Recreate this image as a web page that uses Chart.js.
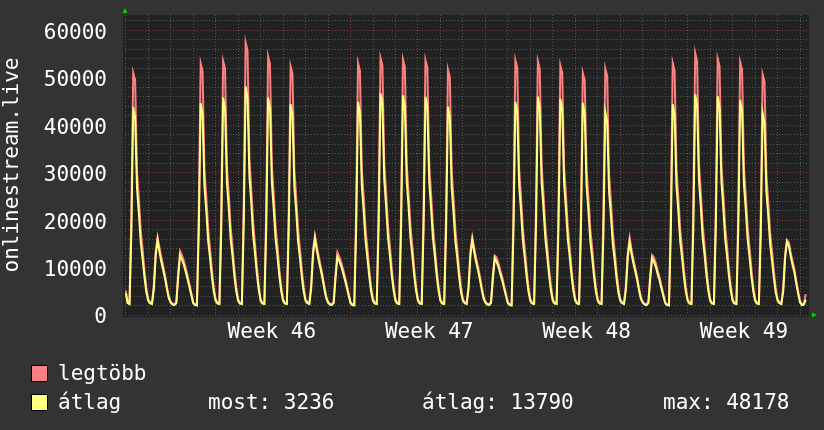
<!DOCTYPE html>
<html>
<head>
<meta charset="utf-8">
<script src="https://cdn.jsdelivr.net/npm/chart.js@4"></script>
<style>
html,body{margin:0;padding:0;background:#333333;}
#wrap{position:relative;width:824px;height:430px;overflow:hidden;background:#333333;}
#c{position:absolute;left:0;top:0;}
.lg{position:absolute;font-family:"DejaVu Sans Mono",monospace;font-size:21px;line-height:21px;color:#ffffff;white-space:pre;}
.box{position:absolute;width:15px;height:15px;border:1px solid #000000;}
</style>
</head>
<body>
<div id="wrap">
<canvas id="c" width="824" height="430"></canvas>
</div>
<script>
// ---------------- DATA ----------------
const Y_TITLE = 'onlinestream.live';
const SERIES_NAMES = ['legtöbb', 'átlag'];
const STEP_HOURS = 2;               // sample spacing (hours)
const WEEK_LABELS = ['Week 46', 'Week 47', 'Week 48', 'Week 49'];
const WEEK_START_HOURS = [72, 240, 408, 576];
const Y_TICK_LABELS = [0, 10000, 20000, 30000, 40000, 50000, 60000];
const STAT_LABELS = ['most', 'átlag', 'max'];
const STAT_VALUES = [3236, 13790, 48178];

// "legtöbb" (max) – one row per day, 2-hour samples
const maxRows = [
  [5200,2700,2500,21400,51000,49500,30200,24500,17800,13800,9400,5700],
  [3300,2700,2500,6400,13500,16400,14200,12100,10300,8300,6000,3900],
  [2800,2400,2300,2800,9000,13500,12600,11400,9900,8300,6500,4600],
  [2700,2300,2200,22300,53000,51400,30700,24900,18100,14000,9500,5800],
  [3300,2600,2500,22500,53500,51900,31400,25400,18500,14400,9700,5900],
  [3300,2600,2500,24100,57400,55700,32900,26600,19400,15000,10200,6200],
  [3300,2600,2500,22900,54500,52900,31400,25400,18500,14400,9700,5900],
  [3300,2600,2500,22000,52400,50800,30600,24800,18000,14000,9500,5800],
  [3300,2700,2500,6500,13800,16700,14500,12400,10500,8500,6100,4000],
  [2800,2400,2300,2800,8800,13200,12300,11100,9700,8100,6400,4500],
  [2700,2300,2200,22300,53100,51500,30900,25000,18200,14100,9600,5800],
  [3300,2600,2500,22800,54200,52600,32000,25900,18800,14600,9900,6000],
  [3300,2600,2500,22600,53800,52200,31700,25700,18700,14500,9800,6000],
  [3300,2600,2500,22600,53700,52100,31600,25500,18600,14400,9800,6000],
  [3300,2600,2500,21700,51700,50100,30300,24500,17900,13900,9400,5700],
  [3300,2700,2500,6400,13500,16400,14200,12100,10300,8300,6000,3900],
  [2800,2400,2300,2800,8600,12500,12100,10900,9300,7900,6100,4400],
  [2700,2300,2200,22600,53700,52100,30900,25000,18200,14100,9600,5800],
  [3300,2600,2500,22500,53500,51900,31600,25500,18600,14400,9800,6000],
  [3300,2600,2500,22100,52600,51000,31300,25300,18500,14300,9700,5900],
  [3300,2600,2500,21400,51000,49500,30800,24900,18100,14100,9500,5800],
  [3300,2600,2500,21800,51900,50300,29600,24000,17500,13600,9200,5600],
  [3300,2700,2500,6300,13200,16300,13800,11700,9900,8000,5700,3800],
  [2800,2400,2300,2800,8600,12600,12100,10900,9300,7900,6100,4400],
  [2700,2300,2200,22300,53100,51500,30600,24800,18000,14000,9500,5800],
  [3300,2600,2500,23200,55200,53500,31900,25800,18800,14600,9900,6000],
  [3300,2600,2500,22700,54000,52400,31600,25600,18600,14400,9800,6000],
  [3300,2600,2500,22400,53300,51700,31100,25200,18400,14200,9700,5900],
  [3300,2600,2500,21300,50700,49200,29500,23900,17400,13500,9200,5600],
  [3300,2700,2500,5900,13000,15800,15300,13100,11300,9600,7100,4900],
  [2900,2300,2400,4400]
];

// "átlag" (average) – one row per day, 2-hour samples
const avgRows = [
  [4600,2500,2300,17500,43800,41600,26700,21500,15300,11800,7900,4800],
  [3000,2500,2300,5500,12500,15800,13300,11200,9500,7600,5400,3500],
  [2600,2200,2100,2500,8000,12600,11700,10600,9100,7600,5900,4200],
  [2500,2100,2000,17800,44600,42400,27200,21900,15600,12000,8000,4900],
  [3000,2400,2300,18300,45800,43500,27900,22400,16000,12400,8200,5000],
  [3000,2400,2300,19300,48178,45800,29400,23600,16900,13000,8700,5300],
  [3000,2400,2300,18300,45800,43500,27900,22400,16000,12400,8200,5000],
  [3000,2400,2300,17800,44400,42200,27100,21800,15500,12000,8000,4900],
  [3000,2500,2300,5600,12800,16200,13600,11500,9700,7800,5500,3600],
  [2600,2200,2100,2500,7800,12300,11400,10300,8900,7400,5800,4100],
  [2500,2100,2000,18000,44900,42700,27400,22000,15700,12100,8100,4900],
  [3000,2400,2300,18700,46700,44400,28500,22900,16300,12600,8400,5100],
  [3000,2400,2300,18500,46300,44000,28200,22700,16200,12500,8300,5100],
  [3000,2400,2300,18400,46000,43700,28100,22500,16100,12400,8300,5100],
  [3000,2400,2300,17600,43900,41700,26800,21500,15400,11900,7900,4800],
  [3000,2500,2300,5500,12500,15800,13300,11200,9500,7600,5400,3500],
  [2600,2200,2100,2500,7600,12000,11200,10100,8600,7200,5600,4000],
  [2500,2100,2000,18000,44900,42700,27400,22000,15700,12100,8100,4900],
  [3000,2400,2300,18400,46000,43700,28100,22500,16100,12400,8300,5100],
  [3000,2400,2300,18200,45600,43300,27800,22300,16000,12300,8200,5000],
  [3000,2400,2300,17900,44700,42500,27300,21900,15600,12100,8000,4900],
  [3000,2400,2300,17100,42800,40700,26100,21000,15000,11600,7700,4700],
  [3000,2500,2300,5400,12200,15400,12900,10900,9200,7400,5200,3400],
  [2600,2200,2100,2500,7600,12000,11200,10100,8600,7200,5600,4000],
  [2500,2100,2000,17800,44400,42200,27100,21800,15500,12000,8000,4900],
  [3000,2400,2300,18600,46500,44200,28400,22800,16300,12600,8400,5100],
  [3000,2400,2300,18400,46100,43800,28100,22600,16100,12400,8300,5100],
  [3000,2400,2300,18100,45300,43000,27600,22200,15900,12200,8200,5000],
  [3000,2400,2300,17000,42600,40500,26000,20900,14900,11500,7700,4700],
  [3000,2500,2300,5000,12000,15400,14600,12300,10500,8900,6500,4400],
  [2600,2100,2200,3236]
];

// ---------------- STYLE ----------------
const FONT = '"DejaVu Sans Mono", monospace';
const FONT_SIZE = 21;
const CANVAS_BG = '#333333';
const PLOT_BG = '#222222';
const GRID_MINOR = '#565656';
const GRID_MAJOR = '#80383a';
const MAX_COLOR = '#ff8080';
const AVG_COLOR = '#ffff80';
const ARROW_COLOR = '#00d000';

const maxValues = maxRows.flat();
const avgValues = avgRows.flat();
const toPoints = arr => arr.map((v, i) => ({ x: i * STEP_HOURS, y: v }));

const weekLabelAt = {};
WEEK_START_HOURS.forEach((h, i) => { weekLabelAt[h + 84] = WEEK_LABELS[i]; });
const weekBoundary = new Set(WEEK_START_HOURS);

Chart.defaults.font.family = FONT;
Chart.defaults.font.size = FONT_SIZE;
Chart.defaults.color = '#ffffff';

const framePlugin = {
  id: 'frame',
  beforeDraw(chart) {
    const { ctx, chartArea: a } = chart;
    ctx.save();
    ctx.fillStyle = CANVAS_BG;
    ctx.fillRect(0, 0, chart.width, chart.height);
    ctx.fillStyle = PLOT_BG;
    ctx.fillRect(a.left - 2, a.top, a.right - a.left + 2, a.bottom - a.top + 2);
    ctx.restore();
  },
  afterDraw(chart) {
    const { ctx, chartArea: a } = chart;
    ctx.save();
    ctx.fillStyle = ARROW_COLOR;
    ctx.beginPath();
    ctx.moveTo(a.left - 2.5, a.top - 2);
    ctx.lineTo(a.left + 2.5, a.top - 2);
    ctx.lineTo(a.left, a.top - 7);
    ctx.closePath();
    ctx.fill();
    ctx.beginPath();
    ctx.moveTo(a.right + 3, a.bottom - 2.5);
    ctx.lineTo(a.right + 3, a.bottom + 2.5);
    ctx.lineTo(a.right + 8, a.bottom);
    ctx.closePath();
    ctx.fill();
    ctx.restore();
  }
};

new Chart(document.getElementById('c'), {
  type: 'line',
  data: {
    datasets: [
      { label: SERIES_NAMES[1], data: toPoints(avgValues), borderColor: AVG_COLOR, borderWidth: 2,
        pointRadius: 0, tension: 0, fill: false, order: 1 },
      { label: SERIES_NAMES[0], data: toPoints(maxValues), borderColor: MAX_COLOR, borderWidth: 2,
        pointRadius: 0, tension: 0, fill: false, order: 2 }
    ]
  },
  options: {
    responsive: false,
    animation: false,
    devicePixelRatio: 1,
    layout: { padding: { left: 0, right: 15, top: 15, bottom: 0 } },
    plugins: { legend: { display: false }, tooltip: { enabled: false } },
    scales: {
      x: {
        type: 'linear',
        min: -0.8,
        max: 729.5,
        afterBuildTicks(axis) {
          const t = [];
          for (let h = 0; h <= 720; h += 12) t.push({ value: h });
          axis.ticks = t;
        },
        afterFit(axis) { axis.height = 115; axis.paddingLeft = 0; axis.paddingRight = 0; },
        ticks: {
          autoSkip: false, maxRotation: 0, minRotation: 0, padding: 5, color: '#ffffff',
          callback: v => weekLabelAt[v] || ''
        },
        grid: {
          drawTicks: false,
          color: c => {
            const v = c.tick ? c.tick.value : -1;
            if (weekBoundary.has(v)) return GRID_MAJOR;
            if (v % 24 === 0) return GRID_MINOR;
            return 'rgba(0,0,0,0)';
          },
          lineWidth: 1
        },
        border: { display: false, dash: [1, 2] }
      },
      y: {
        min: 0,
        max: 63200,
        afterBuildTicks(axis) {
          const t = [];
          for (let v = 0; v <= 62000; v += 2000) t.push({ value: v });
          axis.ticks = t;
        },
        afterFit(axis) { axis.width = 125; axis.paddingTop = 0; axis.paddingBottom = 0; },
        ticks: {
          autoSkip: false, padding: 18, labelOffset: 3, color: '#ffffff',
          callback: v => (Y_TICK_LABELS.includes(v) ? String(v) : '')
        },
        grid: {
          drawTicks: false,
          color: c => {
            const v = c.tick ? c.tick.value : 0;
            return (v !== 0 && v % 10000 === 0) ? GRID_MAJOR : GRID_MINOR;
          },
          lineWidth: 1
        },
        border: { display: false, dash: [1, 2] },
        title: { display: true, text: Y_TITLE, color: '#ffffff', padding: { top: 0, bottom: 0 },
                 font: { family: FONT, size: FONT_SIZE } }
      }
    }
  },
  plugins: [framePlugin]
});

// ---------------- LEGEND (HTML text) ----------------
const wrap = document.getElementById('wrap');
function addBox(left, top, color) {
  const d = document.createElement('div');
  d.className = 'box';
  d.style.left = left + 'px'; d.style.top = top + 'px'; d.style.background = color;
  wrap.appendChild(d);
}
function addText(left, top, text) {
  const d = document.createElement('div');
  d.className = 'lg';
  d.style.left = left + 'px'; d.style.top = top + 'px';
  d.textContent = text;
  wrap.appendChild(d);
}
addBox(31, 365, MAX_COLOR);
addText(58, 363, SERIES_NAMES[0]);
addBox(31, 394, AVG_COLOR);
addText(58, 392, SERIES_NAMES[1]);
const statX = [208, 422, 663];
STAT_LABELS.forEach((l, i) => addText(statX[i], 392, l + ': ' + STAT_VALUES[i]));
</script>
</body>
</html>
